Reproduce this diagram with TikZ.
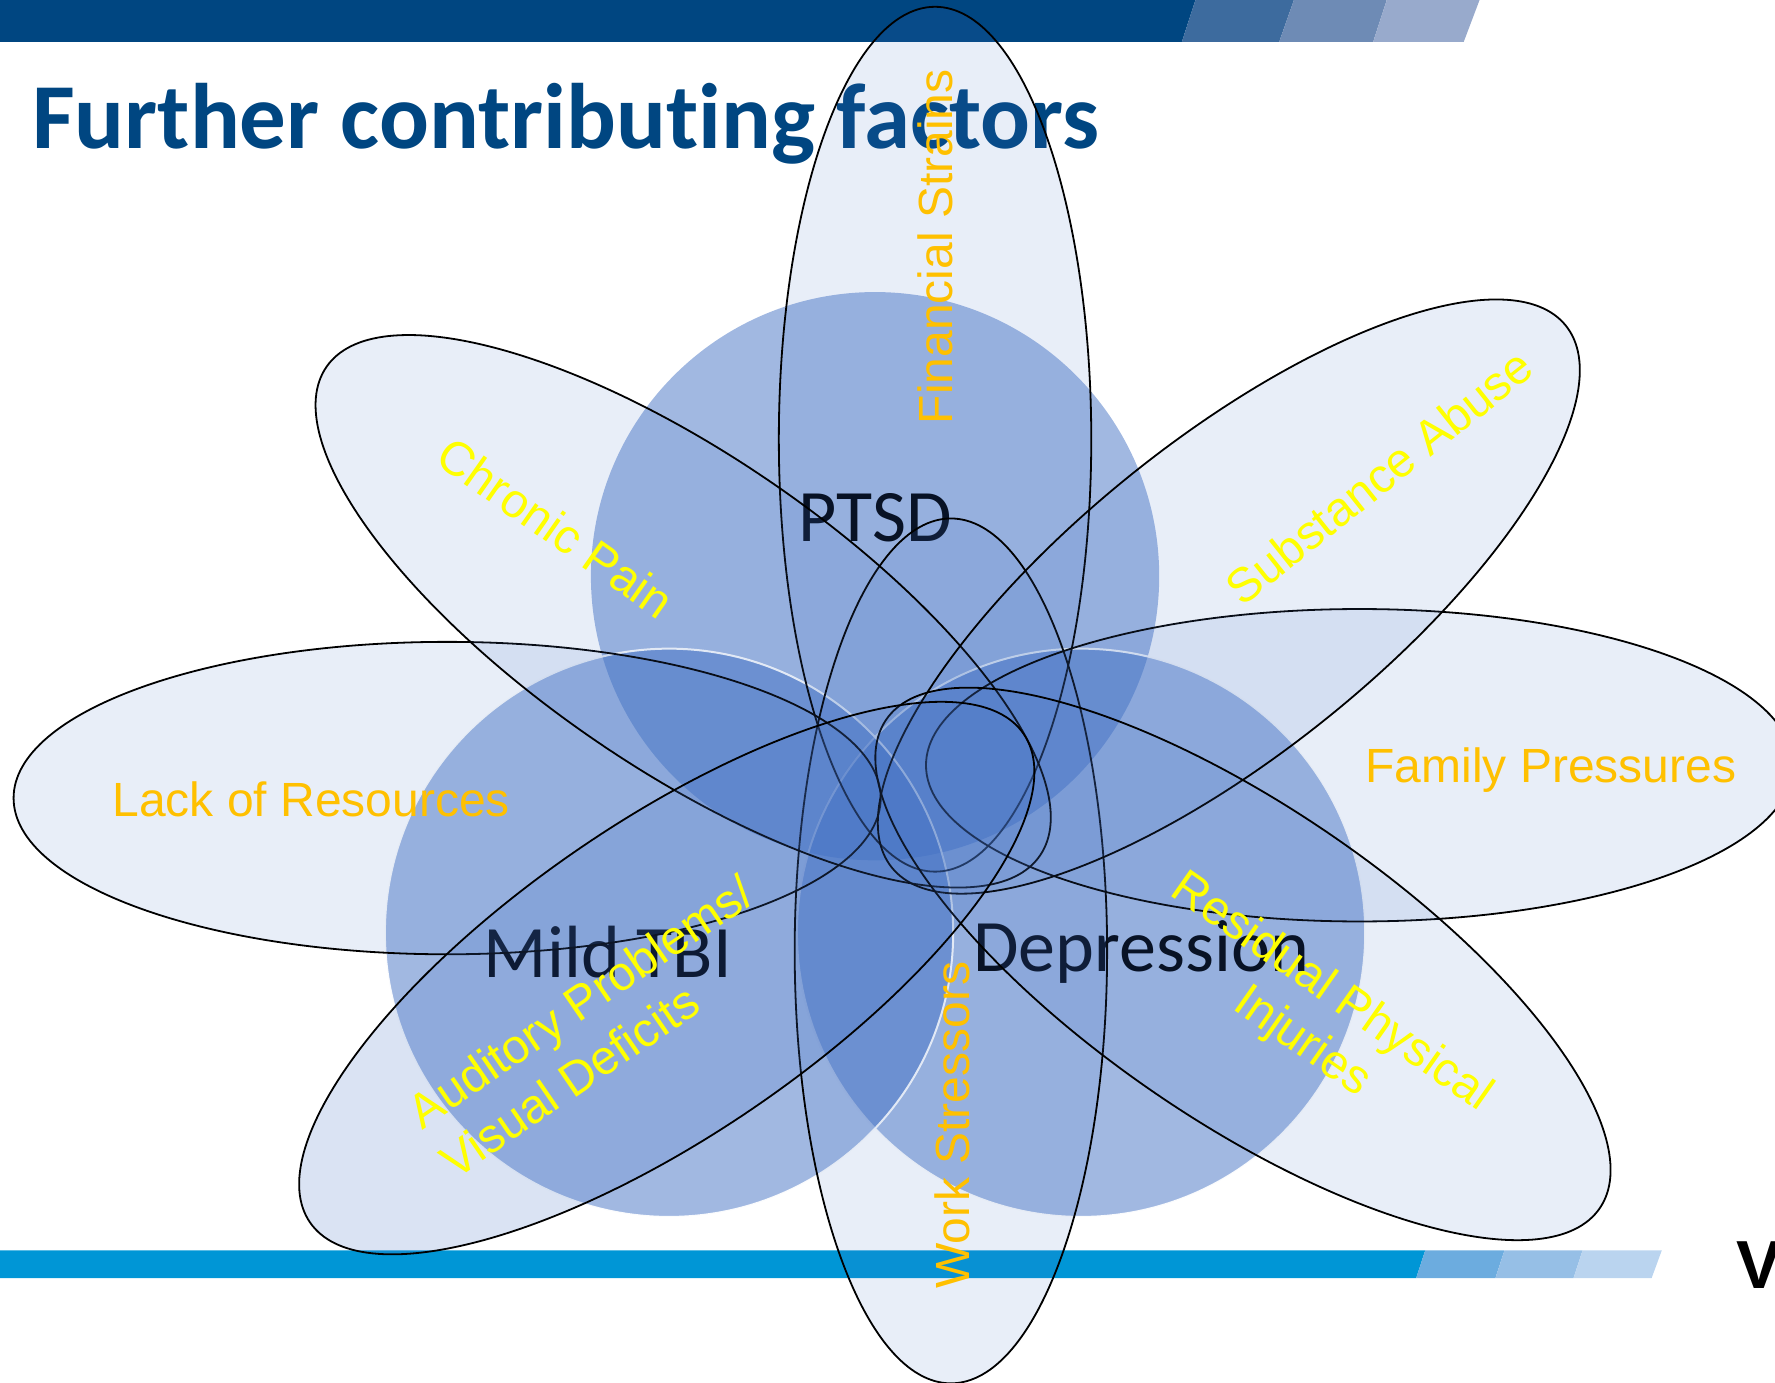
\documentclass[tikz,border=0pt]{standalone}
\usepackage{fontspec}
\setmainfont{Liberation Sans}
\newfontfamily\calib[Ligatures=NoCommon]{Carlito}
\definecolor{barA}{HTML}{004681}
\definecolor{barB}{HTML}{3D6B9E}
\definecolor{barC}{HTML}{6E8BB5}
\definecolor{barD}{HTML}{98AACC}
\definecolor{lowA}{HTML}{0096D6}
\definecolor{lowB}{HTML}{6CACDF}
\definecolor{lowC}{HTML}{96BFE6}
\definecolor{lowD}{HTML}{BAD4EF}
\definecolor{petalblue}{HTML}{4472C4}
\definecolor{orangelab}{HTML}{FFC000}
\definecolor{yellowlab}{HTML}{FFFF00}
\definecolor{darktext}{HTML}{000510}
\tikzset{
  petal/.style={draw=black,line width=0.9pt,fill=petalblue,fill opacity=0.12},
  petalstrong/.style={petal,fill opacity=0.2},
  venn/.style={fill=petalblue,fill opacity=0.5},
  vennw/.style={draw=white,draw opacity=0.95,line width=1pt,fill=petalblue,fill opacity=0.5},
  core/.style={font=\calib\fontsize{37}{44}\selectfont,text=darktext,inner sep=0pt},
  orlab/.style={font=\fontsize{24}{29}\selectfont,text=orangelab,inner sep=0pt},
  yelab/.style={font=\fontsize{24}{29}\selectfont,text=yellowlab,inner sep=0pt},
}
\begin{document}
\begin{tikzpicture}[x=0.566pt,y=-0.566pt]
\useasboundingbox (0,0) rectangle (1568,1221.7);
% top bar
\fill[barA] (0,0) -- (1056,0) -- (1044,37) -- (0,37) -- cycle;
\fill[barB] (1056,0) -- (1143,0) -- (1130,37) -- (1044,37) -- cycle;
\fill[barC] (1143,0) -- (1225,0) -- (1213,37) -- (1130,37) -- cycle;
\fill[barD] (1225,0) -- (1307,0) -- (1293,37) -- (1213,37) -- cycle;
% bottom bar
\fill[lowA] (0,1104.5) -- (1259,1104.5) -- (1251,1129) -- (0,1129) -- cycle;
\fill[lowB] (1259,1104.5) -- (1329,1104.5) -- (1321,1129) -- (1251,1129) -- cycle;
\fill[lowC] (1329,1104.5) -- (1398,1104.5) -- (1390,1129) -- (1321,1129) -- cycle;
\fill[lowD] (1398,1104.5) -- (1468,1104.5) -- (1459,1129) -- (1390,1129) -- cycle;
\node[anchor=base west,inner sep=0pt,font=\bfseries\fontsize{34}{40}\selectfont,text=black] (logo) at (1534,1138) {VA};
\node[anchor=base west,inner sep=0pt,font=\calib\bfseries\fontsize{46.5}{56}\selectfont,text=barA] (title) at (28,131) {Further contributing factors};
% circles
\fill[venn] (773,509) circle [radius=251];
\draw[vennw] (955,824) circle [radius=251];
\draw[vennw] (591,824) circle [radius=251];
\node[core] (ptsd) at (773,457) {PTSD};
\node[core] (tbi) at (537,841) {Mild TBI};
\node[core] (dep) at (1008,841) {Depression};
% petals
\draw[petal] (826,388) ellipse [x radius=138,y radius=382];
\draw[petal] (840,840) ellipse [x radius=138,y radius=382];
\draw[petal] (395,705) ellipse [x radius=383,y radius=138];
\draw[petal] (1201,676) ellipse [x radius=383,y radius=138];
\draw[petal,shift={(603.5,540)},rotate=-34.4] (0,0) ellipse [x radius=382,y radius=138];
\draw[petal,shift={(1085.5,527)},rotate=38.8] (0,0) ellipse [x radius=382,y radius=138];
\draw[petal,shift={(1098,851.5)},rotate=-34.4] (0,0) ellipse [x radius=382,y radius=138];
\draw[petalstrong,shift={(589,864)},rotate=34.4] (0,0) ellipse [x radius=382,y radius=138];
% labels
\node[orlab,rotate=90] (fin) at (826,218) {Financial Strains};
\node[orlab,rotate=90] (work) at (841,994) {Work Stressors};
\node[orlab] (lack) at (275,706) {Lack of Resources};
\node[orlab] (fam) at (1370,680) {Family Pressures};
\node[yelab,rotate=-35] (pain) at (491,466) {Chronic Pain};
\node[yelab,rotate=38.5] (sub) at (1218,421) {Substance Abuse};
\node[yelab,rotate=34.4] (aud) at (515,888) {Auditory Problems/};
\node[yelab,rotate=34.4] (vis) at (503,955) {Visual Deficits};
\node[yelab,rotate=-35] (res) at (1176,877) {Residual Physical};
\node[yelab,rotate=-35] (inj) at (1150,921) {Injuries};
\end{tikzpicture}
\end{document}
